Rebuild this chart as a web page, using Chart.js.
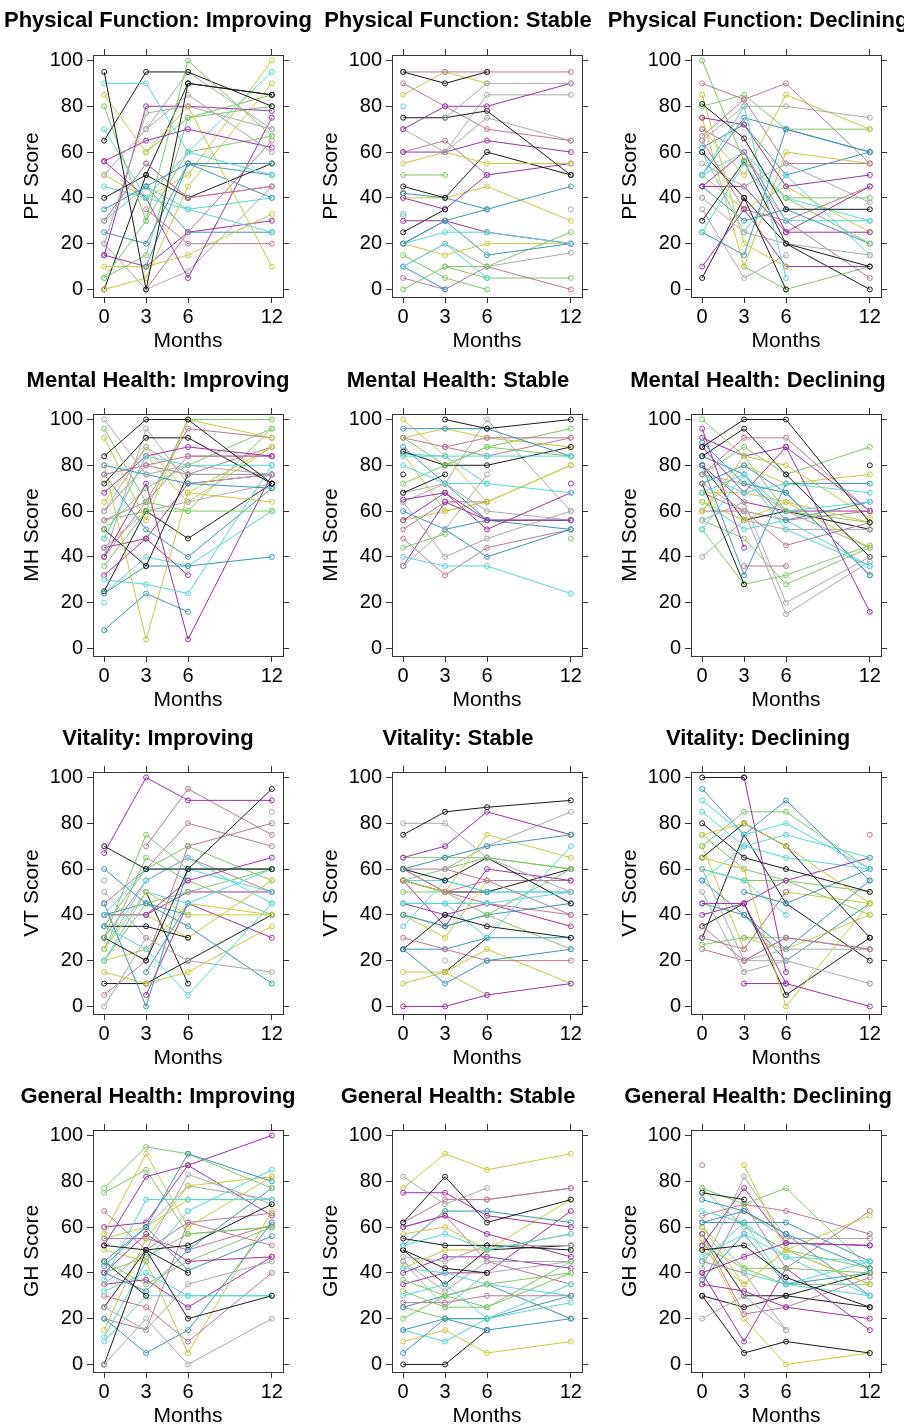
<!DOCTYPE html>
<html>
<head>
<meta charset="utf-8">
<script src="https://cdn.jsdelivr.net/npm/chart.js@4.4.1/dist/chart.umd.min.js"></script>
<style>
  html, body { margin: 0; padding: 0; background: #fff; overflow: hidden; width: 904px; height: 1425px; }
  canvas { position: absolute; }
  .title {
    position: absolute; width: 340px; margin-left: -170px; text-align: center;
    font: bold 22px "Liberation Sans", Arial, sans-serif; line-height: 24px; white-space: nowrap; color: #000;
  }
</style>
</head>
<body>
<script>
const months = [0, 3, 6, 12];
const yTicks = [0, 20, 40, 60, 80, 100];
const measures = ["Physical Function", "Mental Health", "Vitality", "General Health"];
const groups = ["Improving", "Stable", "Declining"];
const yTitles = ["PF Score", "MH Score", "VT Score", "GH Score"];

// series order cycles: black, gray, cyan, teal, purple, rose, yellow, green
const pfImproving = [
  [95, 0, 90, 85], [50, 70, 85, 60], [90, 90, 60, 50], [35, 45, 55, 55], [56, 65, 70, 62], [30, 55, 40, 45], [85, 60, 80, 10], [80, 30, 100, 67],
  [65, 95, 95, 80], [20, 77, 80, 70], [70, 40, 60, 95], [25, 20, 55, 40], [15, 80, 80, 78], [null, 35, 20, 20], [0, 5, 45, 90], [5, 15, 75, 80],
  [40, 50, 40, 55], [null, 70, 95, 70], [45, 40, 35, 25], [null, 10, 55, 50], [56, 40, 5, 75], [null, 0, 25, 65], [10, 10, 15, 33], [5, 30, 60, 67],
  [0, 50, 90, 85], [20, 0, 8, 45], [30, 45, 35, 40], [null, 45, 25, 25], [15, 10, 25, 30], [null, 55, 40, 45], [50, 40, 50, 100], [null, 60, 75, 85]
];
const pfStable = [
  [95, 90, 95, null], [null, 75, 90, 90], [80, null, null, null], [20, 30, 35, 45], [70, 80, 80, 90], [95, 95, 95, 95], [85, 95, 90, null], [50, 50, null, null],
  [75, 75, 78, 50], [null, 60, 85, 85], [20, 25, 25, 20], [20, 30, 15, 20], [60, 60, 65, 60], [90, 80, 70, 65], [55, 60, 55, 55], [0, 10, 10, 25],
  [45, 40, 60, 50], [70, 60, 75, 65], [10, 20, 5, null], [10, 0, null, null], [30, 30, 25, 20], [5, 0, 10, 0], [20, 15, 20, 20], [15, 5, 0, null],
  [25, 35, null, null], [10, 20, 10, 16], [33, null, null, null], [42, 40, 35, null], [40, 35, 50, 55], [60, 65, 50, null], [40, 40, 45, 30], [null, 10, 5, 5],
  [42, null, null, null], [32, null, null, 35]
];
const pfDeclining = [
  [81, 66, 35, 35], [65, 80, 80, 75], [50, 80, 5, null], [50, 75, 70, 60], [75, 72, 45, 50], [90, 83, 90, 55], [85, 20, 10, null], [100, 56, 40, 20],
  [60, 40, 0, null], [55, 45, 55, 38], [25, 55, 30, 30], [25, 15, 70, 60], [45, 45, 25, 45], [70, 60, 30, 45], [70, 50, 85, 70], [80, 85, 70, 70],
  [30, 56, 20, 10], [40, 25, 20, 15], [60, 25, 50, 15], [45, 30, 35, 20], [10, 35, 10, 10], [65, 35, 30, 5], [75, 10, 60, 55], [null, 10, 0, 10],
  [5, 40, 20, 0], [35, 5, 15, null], [50, 60, 40, 30], [62, 72, 50, 60], [45, 60, 25, 25], [67, 83, 55, 55], [50, 35, 45, 25], [40, null, 40, 40]
];
const mhImproving = [
  [84, 100, 100, 72], [100, 76, 80, 76], [48, 84, 80, 80], [80, 76, 72, 70], [68, 84, 88, 84], [76, 80, 84, 84], [92, 56, 100, 92], [96, 64, 60, 60],
  [72, 92, 92, 72], [60, 88, 76, 76], [30, 28, 24, 80], [8, 24, 16, null], [40, 72, 4, 76], [56, 64, 96, 92], [80, 4, 68, 88], [52, 70, 80, 96],
  [52, 36, 76, 76], [40, 96, 72, 76], [20, null, null, null], [24, 36, 36, 40], [32, 48, 32, null], [40, 64, 84, 84], [64, 88, 68, 64], [36, 60, 100, 100],
  [25, 60, 48, 72], [44, 60, 64, 72], [24, 40, 36, 60], [76, 52, 40, 70], [44, 48, 72, 76], [60, 80, 76, 88], [48, 84, 64, 88], [56, 60, 60, 96]
];
const mhStable = [
  [null, 100, 96, 100], [36, 52, 76, null], [84, 84, 84, 84], [96, 96, 96, 84], [65, 68, 56, 56], [92, 88, 92, 92], [100, 84, 64, 80], [92, 80, 88, 84],
  [86, 80, 80, 88], [64, 40, 48, 60], [80, 72, 72, 68], [60, 52, 40, 52], [56, 68, 52, 68], [48, 32, 44, 52], [92, 96, 92, 88], [72, 80, 88, 96],
  [68, 76, null, null], [64, 72, 60, 56], [40, 36, 36, 24], [88, 72, 56, 56], [36, 64, 56, 56], [52, 64, 64, null], [56, 60, 64, 80], [44, 50, null, null],
  [76, null, null, null], [68, 72, 100, 60], [85, 84, 72, null], [null, 52, 56, 52], [null, null, null, 72], [null, 88, 84, 92], [85, 60, 64, null], [null, null, null, 48]
];
const mhDeclining = [
  [88, 100, 100, 55], [56, 64, 20, 40], [52, 76, 52, 36], [90, 72, 68, 32], [96, 44, null, null], [76, 92, 92, 60], [60, 84, 80, 57], [100, 84, 60, 55],
  [84, 96, 76, 40], [72, 60, 15, 38], [76, 68, 72, 68], [80, 32, 72, 72], [88, 68, 88, 16], [null, 36, 36, null], [64, 56, 64, 44], [76, 88, 76, 88],
  [72, 28, null, null], [40, 56, 52, 52], [68, 76, 60, 64], [84, 76, 56, 64], [80, 64, 60, 60], [60, 60, 45, 55], [68, 68, 64, 55], [52, 28, 32, 45],
  [80, 56, 60, 52], [76, 72, 60, 44], [64, 52, 56, 36], [72, 80, 68, 32], [92, 84, 88, 60], [68, 60, 56, 60], [60, 80, 72, 76], [56, 48, 28, 44],
  [null, null, null, 80]
];
const vtImproving = [
  [70, 60, 60, 60], [0, 30, 20, 15], [40, 60, 60, 50], [60, 45, 35, 10], [67, 100, 90, 90], [null, 70, 95, 75], [25, 50, 40, 40], [30, 75, 60, 60],
  [30, 20, 60, 95], [55, null, null, null], [35, 25, 5, 45], [45, 0, 60, 60], [null, 40, 55, 65], [45, 60, 80, 70], [15, 10, 15, 35], [25, 65, 55, 40],
  [35, 35, 30, null], [50, 30, null, 85], [20, 50, 45, 60], [null, 15, 45, null], [null, 5, 45, 30], [5, 20, 70, 80], [null, 40, 30, 55], [20, 45, 50, 60],
  [10, 10, 20, 40], [null, 20, null, null], [25, 55, 65, 45], [40, 45, 40, null], [40, 40, 50, 50], [30, 55, 65, 50], [20, 25, 45, 40], [35, 60, 70, 55],
  [null, 50, 10, null]
];
const vtStable = [
  [75, 85, 87, 90], [80, 80, 65, 50], [45, 45, 45, 50], [60, 65, 70, 75], [65, 70, 85, 75], [60, 50, 55, 40], [55, 50, 75, 65], [65, 65, 65, 60],
  [60, 55, 65, 45], [null, 60, 70, 85], [35, 55, 50, 50], [25, 10, 20, 25], [0, 0, 5, 10], [30, 25, 20, 20], [15, 15, 25, 10], [50, 50, 40, 60],
  [25, 40, 35, 30], [null, 65, null, null], [45, 45, 30, 70], [40, 35, 40, 45], [55, 35, 60, 55], [60, 50, 45, 40], [40, 30, 55, null], [40, 35, 40, 25],
  [55, 50, 50, 60], [null, 20, null, null], [55, 55, 50, 50], [25, 25, 30, 30], [45, 40, 45, 35], [60, 60, 55, 55], [10, 15, 5, null], [55, 60, 65, 60],
  [null, 15, 30, null]
];
const vtDeclining = [
  [100, 100, null, null], [50, 15, 20, 10], [90, 75, 80, 60], [95, 75, 90, 55], [null, 100, 15, null], [25, 20, 30, 25], [75, 80, 70, 45], [70, 85, 85, 60],
  [80, 65, 60, 50], [null, 20, 20, null], [85, 70, 75, 65], [null, 50, 45, 60], [45, 45, 10, 0], [null, null, null, 75], [65, 60, 0, 45], [27, 30, 30, null],
  [65, 80, 70, 30], [60, 20, 25, 25], [60, 55, 40, null], [55, 40, 25, 55], [40, 45, 55, 65], [35, 20, 30, 25], [null, 30, 25, 40], [60, 55, 55, 50],
  [35, 45, 5, 30], [null, 15, null, 10], [55, 70, 65, 60], [45, 40, 20, 45], [null, 10, 10, null], [30, 25, 50, null], [70, 25, 50, 45], [75, 60, 55, 40],
  [30, 75, 45, 20]
];
const ghImproving = [
  [52, 50, 40, null], [0, 20, 0, 20], [37, 72, 72, 72], [43, 60, 92, 80], [52, 82, 87, 100], [67, 50, 62, 52], [57, 92, 60, 82], [77, 95, 92, 77],
  [0, 50, 20, 30], [25, 15, 35, 45], [32, 40, 30, 30], [20, 5, 15, 62], [40, 57, 45, 47], [30, 25, 10, 40], [50, 45, 5, 67], [75, 85, 57, 60],
  [25, 50, 52, 70], [35, 50, 83, 70], [12, 45, 67, 85], [45, 60, 41, 56], [35, 37, 25, 47], [20, 15, 62, 66], [15, 55, 78, 82], [45, 35, 45, 60],
  [45, 30, null, null], [null, 60, 78, 72], [10, 30, 30, 30], [40, 32, 50, 77], [60, 62, 87, 65], [55, 55, 50, 61], [55, 60, 72, 72], [40, 47, 57, 60]
];
const ghStable = [
  [62, 82, 62, 72], [82, 70, 77, null], [52, 57, 50, 57], [5, 20, 15, 20], [75, 75, 65, 60], [62, 72, 72, 77], [77, 92, 85, 92], [37, 30, 25, 40],
  [55, 52, 52, 50], [47, 45, 52, 52], [30, 35, 20, 27], [15, 20, 20, 30], [60, 65, 57, 47], [27, 27, 30, 30], [57, 60, 50, 57], [32, 25, 25, 45],
  [50, 42, 40, null], [45, 32, 45, 45], [15, 10, 20, 35], [52, 67, 67, 62], [40, 47, 47, 42], [60, 65, 45, 35], [10, 15, 5, 10], [20, 30, 35, 40],
  [0, 0, 15, null], [45, 25, 40, 45], [42, 40, 35, 30], [25, 30, 35, 20], [35, 40, 40, 67], [null, null, 72, 77], [42, 50, 50, 72], [25, 20, 20, null],
  [50, 35, 50, 52]
];
const ghDeclining = [
  [75, 72, null, null], [20, 30, 15, null], [67, 62, 47, 45], [72, 67, 57, 42], [40, 47, 53, 52], [87, null, null, null], [null, 87, 50, 35], [77, 70, 77, 42],
  [50, 52, 38, 25], [42, 82, 55, 55], [47, 57, 47, 30], [62, 62, 62, 45], [52, 77, 53, 52], [65, 70, 67, 57], [60, 35, 50, 65], [52, 42, 42, 40],
  [30, 5, 10, 5], [45, 40, 15, null], [45, 40, 35, 30], [37, 57, 35, 40], [35, 32, 25, 20], [57, 22, 25, 38], [55, 20, 0, 5], [60, 42, 35, 35],
  [57, 30, 30, 40], [null, 67, 55, 55], [45, 62, 35, 45], [62, 67, 57, 30], [40, 10, 42, 15], [35, 70, 42, 67], [50, 35, 50, 35], [77, 60, 50, 42],
  [30, 25, 30, 25]
];

const panels = [
  [pfImproving, pfStable, pfDeclining],
  [mhImproving, mhStable, mhDeclining],
  [vtImproving, vtStable, vtDeclining],
  [ghImproving, ghStable, ghDeclining]
];

const palette = ["#1a1a1a", "#a9a9a9", "#4fd9d6", "#3a95b5", "#9c2fa6", "#b97897", "#c9c93a", "#7cc864"];
const FONT = '"Liberation Sans", Arial, sans-serif';
const axisCol = "#333";

const boxLeft = [93, 392, 691];
const boxTop = [55, 414, 772, 1130];
const titleX = [158, 458, 758];
const titleY = [20, 380, 738, 1096];

Chart.defaults.font.family = FONT;

function axis(position, extra) {
  return Object.assign({
    type: "linear",
    position: position,
    grid: { drawOnChartArea: false, drawTicks: true, tickLength: 6, color: axisCol, lineWidth: 1 },
    border: { display: true, color: axisCol, width: 1 }
  }, extra);
}

function makePanel(r, c) {
  const canvas = document.createElement("canvas");
  canvas.width = 300;
  canvas.height = 347;
  canvas.style.left = (boxLeft[c] - 93) + "px";
  canvas.style.top = (boxTop[r] - 45) + "px";
  document.body.appendChild(canvas);

  const title = document.createElement("div");
  title.className = "title";
  title.textContent = measures[r] + ": " + groups[c];
  title.style.left = titleX[c] + "px";
  title.style.top = (titleY[r] - 12) + "px";
  document.body.appendChild(title);

  const datasets = panels[r][c].map((vals, i) => {
    const col = palette[i % palette.length];
    return {
      data: vals.map((v, j) => ({ x: months[j], y: v })),
      borderColor: col,
      pointBorderColor: col,
      pointBackgroundColor: "rgba(0,0,0,0)",
      borderWidth: 1,
      pointRadius: 2.5,
      pointBorderWidth: 1,
      spanGaps: false,
      tension: 0,
      fill: false
    };
  });

  const xTicks = s => { s.ticks = months.map(v => ({ value: v })); };
  const yTickSet = s => { s.ticks = yTicks.map(v => ({ value: v })); };

  new Chart(canvas, {
    type: "line",
    data: { datasets },
    options: {
      responsive: false,
      animation: false,
      devicePixelRatio: 1,
      layout: { padding: 0 },
      plugins: { legend: { display: false }, tooltip: { enabled: false } },
      scales: {
        x: axis("bottom", {
          min: -0.8, max: 12.8,
          afterBuildTicks: xTicks,
          ticks: { font: { size: 20 }, color: "#000", padding: 2, maxRotation: 0, autoSkip: false },
          title: { display: true, text: "Months", font: { size: 21 }, color: "#000", padding: { top: 0, bottom: 3 } },
          afterFit: s => { s.height = 60; }
        }),
        xTop: axis("top", {
          min: -0.8, max: 12.8,
          afterBuildTicks: xTicks,
          ticks: { display: false },
          afterFit: s => { s.height = 45; }
        }),
        y: axis("left", {
          min: -3.3, max: 102.4,
          afterBuildTicks: yTickSet,
          ticks: { font: { size: 20 }, color: "#000", padding: 4 },
          title: { display: true, text: yTitles[r], font: { size: 21 }, color: "#000", padding: { top: 20, bottom: 0 } },
          afterFit: s => { s.width = 93; }
        }),
        yRight: axis("right", {
          min: -3.3, max: 102.4,
          afterBuildTicks: yTickSet,
          ticks: { display: false },
          afterFit: s => { s.width = 17; }
        })
      }
    }
  });
}

for (let r = 0; r < 4; r++) {
  for (let c = 0; c < 3; c++) makePanel(r, c);
}
</script>
</body>
</html>
